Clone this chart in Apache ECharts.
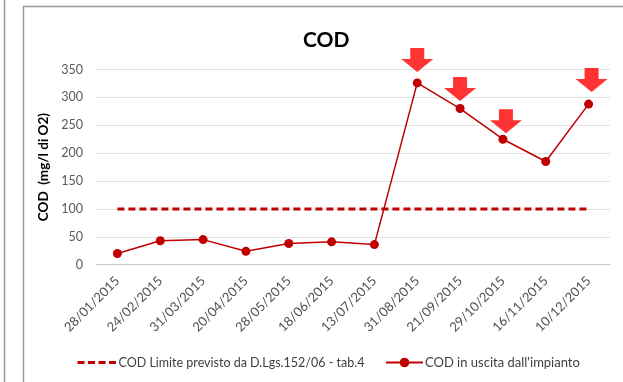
<!DOCTYPE html>
<html>
<head>
<meta charset="utf-8">
<script src="https://cdn.jsdelivr.net/npm/echarts@6/dist/echarts.min.js"></script>
<style>
  html, body { margin: 0; padding: 0; background: #fff; }
  #chart { width: 623px; height: 382px; }
</style>
</head>
<body>
<div id="chart"></div>
<script>
// Sampling dates (x categories)
const dates = ['28/01/2015', '24/02/2015', '31/03/2015', '20/04/2015', '28/05/2015', '18/06/2015',
               '13/07/2015', '31/08/2015', '21/09/2015', '29/10/2015', '16/11/2015', '10/12/2015'];
// COD measured at the plant outlet (mg/l O2)
const codOut = [20, 43, 45, 24, 38, 41, 36, 326, 280, 225, 185, 288];
// Legal limit (D.Lgs. 152/06 - tab.4)
const codLimit = [100, 100, 100, 100, 100, 100, 100, 100, 100, 100, 100, 100];
// Samples above the limit that get a warning arrow
const flaggedDates = ['31/08/2015', '21/09/2015', '29/10/2015', '10/12/2015'];
const yTicks = [0, 50, 100, 150, 200, 250, 300, 350];

const FONT = 'Lato, "Open Sans", sans-serif';
const darkRed = '#C00000';

// Arrow glyph pointing down; per-arrow pixel offsets above its point
const arrowPath = 'path://M9,0 L23,0 L23,11 L32,11 L16,24 L0,11 L9,11 Z';
const arrowOffsets = [[0, -23], [0, -19.5], [3, -18], [3, -24]];

const arrowData = flaggedDates.map((d, i) => {
  const idx = dates.indexOf(d);
  return { value: [idx, codOut[idx]], symbolOffset: arrowOffsets[i] };
});

const LIMIT_NAME = 'COD Limite previsto da D.Lgs.152/06 - tab.4';
const OUT_NAME = 'COD in uscita dall\'impianto';

const chart = echarts.init(document.getElementById('chart'), null, { renderer: 'canvas' });
chart.setOption({
  animation: false,
  backgroundColor: '#fff',
  title: {
    text: 'COD',
    left: 298,
    top: 25,
    textStyle: { fontFamily: FONT, fontSize: 21, fontWeight: 'bold', color: '#000' }
  },
  grid: { left: 96, right: 13, top: 69.5, bottom: 117.3, containLabel: false },
  xAxis: {
    type: 'category',
    data: dates,
    boundaryGap: true,
    axisLine: { show: true, lineStyle: { color: '#c8c8c8', width: 1 } },
    axisTick: { show: false },
    axisLabel: { rotate: 45, margin: 14, fontFamily: FONT, fontSize: 13, color: '#505050', interval: 0 }
  },
  yAxis: {
    type: 'value',
    min: 0,
    max: yTicks[yTicks.length - 1],
    interval: yTicks[1] - yTicks[0],
    name: 'COD  (mg/l di O2)',
    nameLocation: 'middle',
    nameGap: 41,
    nameTextStyle: { fontFamily: FONT, fontSize: 13.5, fontWeight: 'bold', color: '#000' },
    axisLine: { show: false },
    axisTick: { show: false },
    axisLabel: { margin: 13, fontFamily: FONT, fontSize: 12.5, color: '#595959' },
    splitLine: { lineStyle: { color: '#e2e2e2', width: 1 } }
  },
  legend: [
    {
      data: [{ name: LIMIT_NAME, itemStyle: { opacity: 0 } }],
      left: 71, top: 351,
      itemWidth: 39, itemHeight: 12, itemGap: 3,
      lineStyle: { width: 3, type: [7, 3.5], color: darkRed },
      textStyle: { fontFamily: FONT, fontSize: 12.5, color: '#404040', padding: [0, 0, 0, -3] }
    },
    {
      data: [OUT_NAME],
      left: 380, top: 351,
      itemWidth: 37, itemHeight: 12,
      textStyle: { fontFamily: FONT, fontSize: 13, color: '#404040', padding: [0, 0, 0, -3] }
    }
  ],
  graphic: [
    { type: 'line', shape: { x1: 4.5, y1: 0, x2: 4.5, y2: 382 }, style: { stroke: '#9a9a9a', lineWidth: 1.5 }, silent: true },
    { type: 'rect', shape: { x: 23.5, y: 6.5, width: 700, height: 420 }, style: { fill: 'none', stroke: '#9a9a9a', lineWidth: 1.5 }, silent: true, z: -1 }
  ],
  series: [
    {
      name: LIMIT_NAME,
      type: 'line',
      data: codLimit,
      symbol: 'none',
      lineStyle: { color: darkRed, width: 3, type: [7, 4] },
      itemStyle: { color: darkRed },
      silent: true
    },
    {
      name: OUT_NAME,
      type: 'line',
      data: codOut,
      symbol: 'circle',
      symbolSize: 9,
      lineStyle: { color: darkRed, width: 1.5 },
      itemStyle: { color: darkRed },
      z: 3,
      silent: true
    },
    {
      name: 'flags',
      type: 'scatter',
      data: arrowData,
      symbol: arrowPath,
      symbolSize: [32, 24],
      itemStyle: { color: '#FF0000' },
      z: 4,
      silent: true
    }
  ]
});
</script>
</body>
</html>
